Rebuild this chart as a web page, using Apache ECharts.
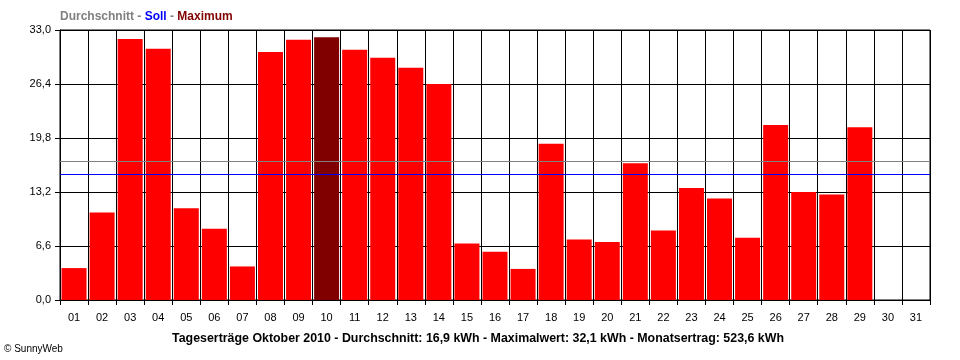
<!DOCTYPE html>
<html>
<head>
<meta charset="utf-8">
<script src="https://cdn.jsdelivr.net/npm/echarts@6/dist/echarts.min.js"></script>
<style>html,body{margin:0;padding:0;background:#fff}#c{width:960px;height:360px}</style>
</head>
<body>
<div id="c"></div>
<script>
const days = ['01','02','03','04','05','06','07','08','09','10','11','12','13','14','15','16','17','18','19','20','21','22','23','24','25','26','27','28','29','30','31'];
const yields = [3.9,10.7,31.9,30.7,11.2,8.7,4.1,30.3,31.8,32.1,30.6,29.6,28.4,26.4,6.9,5.9,3.8,19.1,7.4,7.1,16.7,8.5,13.7,12.4,7.6,21.4,13.2,12.9,21.1,null,null];
const average = [16.9];
const target = [15.4];
const yTicks = [0, 6.6, 13.2, 19.8, 26.4, 33.0];
const titleText = 'Tageserträge Oktober 2010 - Durchschnitt: 16,9 kWh - Maximalwert: 32,1 kWh - Monatsertrag: 523,6 kWh';

const maxVal = Math.max(...yields.filter(v => v != null));
const barData = yields.map(v => v === maxVal ? {value: v, itemStyle: {color: '#800000'}} : v);

const chart = echarts.init(document.getElementById('c'), null, {renderer: 'canvas'});
const F = 'Liberation Sans, Arial, sans-serif';
const legendStyle = {fontWeight: 'bold', fontSize: 12, fontFamily: F};
chart.setOption({
  animation: false,
  backgroundColor: '#fff',
  title: [
    {
      text: '{a|Durchschnitt - }{b|Soll}{a| - }{c|Maximum}',
      left: 60, top: 11, padding: 0,
      textStyle: {
        rich: {
          a: Object.assign({color: '#808080'}, legendStyle),
          b: Object.assign({color: '#0000ff'}, legendStyle),
          c: Object.assign({color: '#800000'}, legendStyle)
        }
      }
    },
    {
      text: titleText,
      left: 478, textAlign: 'center', top: 333, padding: 0,
      textStyle: {color: '#000', fontWeight: 'bold', fontSize: 12.4, fontFamily: 'Liberation Sans Narrow, Arial Narrow, sans-serif'}
    },
    {
      text: '© SunnyWeb',
      left: 4, top: 344, padding: 0,
      textStyle: {color: '#000', fontWeight: 'normal', fontSize: 10, fontFamily: F}
    }
  ],
  grid: {left: 60, right: 30, top: 30, bottom: 60, show: true, borderColor: '#000', borderWidth: 1},
  xAxis: {
    type: 'category',
    data: days,
    boundaryGap: true,
    axisLine: {lineStyle: {color: '#000', width: 1}},
    axisTick: {show: true, length: 5, alignWithLabel: false, lineStyle: {color: '#000'}},
    axisLabel: {color: '#000', fontSize: 11, fontFamily: F, margin: 12, interval: 0},
    splitLine: {show: true, interval: 0, lineStyle: {color: '#000', width: 1}}
  },
  yAxis: {
    type: 'value',
    min: 0, max: 33, interval: 6.6,
    axisLine: {show: true, lineStyle: {color: '#000'}},
    axisTick: {show: true, length: 5, lineStyle: {color: '#000'}},
    axisLabel: {color: '#000', fontSize: 11, fontFamily: F, margin: 9,
      formatter: v => {
        const t = yTicks.find(x => Math.abs(x - v) < 1e-6);
        return (t !== undefined ? t : v).toFixed(1).replace('.', ',');
      }},
    splitLine: {show: true, lineStyle: {color: '#000', width: 1}}
  },
  series: [
    {
      type: 'bar',
      data: barData,
      barWidth: 25,
      itemStyle: {color: '#ff0000'},
      z: 2,
      markLine: {
        silent: true,
        symbol: 'none',
        label: {show: false},
        data: [
          {yAxis: average[0], lineStyle: {color: '#808080', width: 1, type: 'solid'}},
          {yAxis: target[0], lineStyle: {color: '#0000ff', width: 1, type: 'solid'}}
        ]
      }
    }
  ]
});
</script>
</body>
</html>
